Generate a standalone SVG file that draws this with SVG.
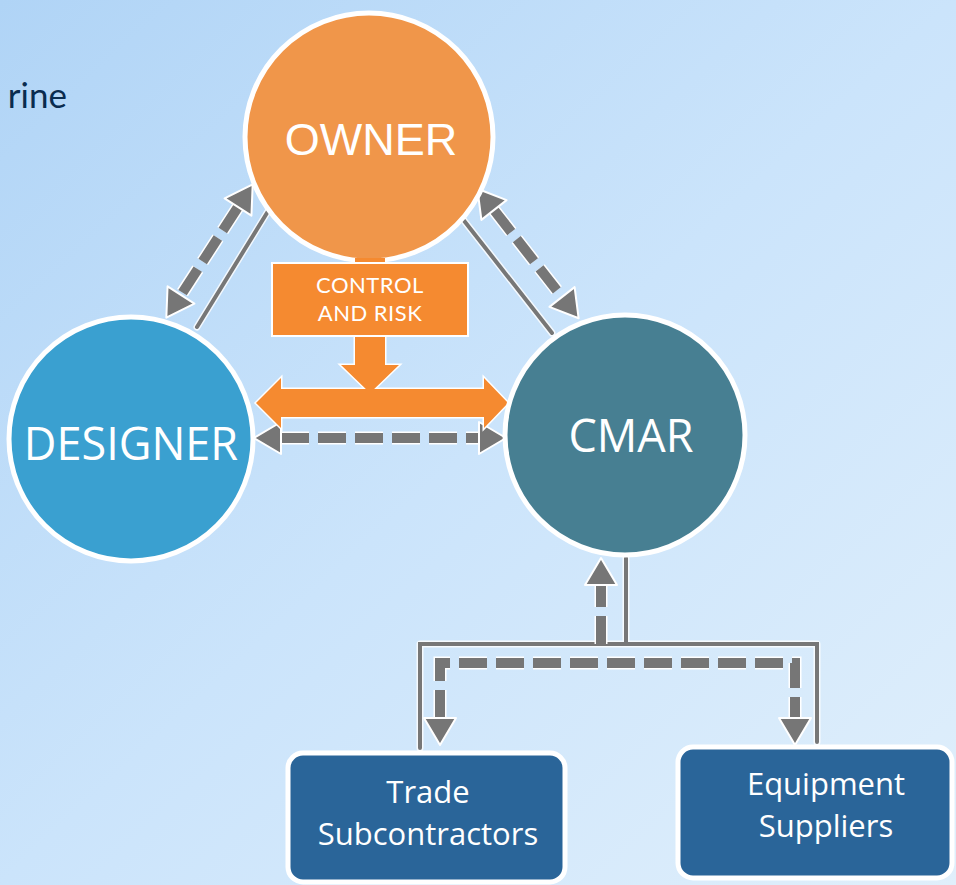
<svg xmlns="http://www.w3.org/2000/svg" width="956" height="885" viewBox="0 0 956 885">
  <defs>
    <linearGradient id="bg" x1="0" y1="0" x2="1" y2="1">
      <stop offset="0" stop-color="#b0d4f6"/>
      <stop offset="0.5" stop-color="#cbe4fb"/>
      <stop offset="1" stop-color="#e0effb"/>
    </linearGradient>
    <marker id="head" markerUnits="userSpaceOnUse" viewBox="-2 -2 31 36" refX="0" refY="16" markerWidth="31" markerHeight="36" orient="auto-start-reverse" overflow="visible">
      <path d="M0,0 L27,16 L0,32 Z" fill="#767676" stroke="#ffffff" stroke-width="2" stroke-linejoin="round"/>
    </marker>
    <style>
      .halo-dash { fill: none; stroke: #ffffff; stroke-width: 13; stroke-dasharray: 28 9; }
      .dash { fill: none; stroke: #767676; stroke-width: 10; stroke-dasharray: 28 9; }
      .halo-solid { fill: none; stroke: #ffffff; stroke-width: 7; stroke-linecap: round; stroke-linejoin: round; opacity: 0.8; }
      .solid { fill: none; stroke: #777777; stroke-width: 4; stroke-linecap: round; stroke-linejoin: miter; }
      .ring { stroke: #ffffff; stroke-width: 5; }
      .big { fill: #ffffff; font-size: 45px; text-anchor: middle; }
      .box { fill: #2a6599; stroke: #ffffff; stroke-width: 5; }
      .boxtext { fill: #ffffff; font-family: "Open Sans", "Noto Sans", sans-serif; font-size: 31px; text-anchor: middle; }
      .orange { fill: #f58a30; }
      .label { fill: #ffffff; font-family: Lato, "Open Sans", sans-serif; font-size: 22px; text-anchor: middle; letter-spacing: 0.5px; }
    </style>
  </defs>

  <rect width="956" height="885" fill="url(#bg)"/>

  <!-- heading fragment at the top left -->
  <text x="67" y="108" font-family="Lato, 'Open Sans', sans-serif" font-size="35" fill="#0a2c4f" text-anchor="end">rine</text>

  <!-- connectors -->
  <g id="connectors">
    <!-- solid contract lines -->
    <path class="halo-solid" d="M270,208 L197,327 M458,213 L552,333 M626,558 V644 M420,748 V644 H817 V742"/>
    <path class="solid" d="M270,208 L197,327 M458,213 L552,333 M626,558 V644 M420,748 V644 H817 V742"/>

    <!-- dashed communication lines -->
    <path class="halo-dash" d="M238,207 L181,295"/>
    <path class="dash" d="M238,207 L181,295" marker-start="url(#head)" marker-end="url(#head)"/>

    <path class="halo-dash" d="M494,210 L562,297"/>
    <path class="dash" d="M494,210 L562,297" marker-start="url(#head)" marker-end="url(#head)"/>

    <path class="halo-dash" d="M281,438 L479,438"/>
    <path class="dash" d="M281,438 L479,438" marker-start="url(#head)" marker-end="url(#head)"/>

    <path class="halo-dash" d="M601,644 V585"/>
    <path class="dash" d="M601,644 V585" marker-end="url(#head)"/>

    <path class="halo-dash" d="M440,718 V663 H795 V718"/>
    <path class="dash" d="M440,718 V663 H795 V718" marker-start="url(#head)" marker-end="url(#head)"/>

    <!-- control and risk arrows: outlines first, then fills so they merge -->
    <g fill="none" stroke="#ffffff" stroke-width="3" stroke-linejoin="miter">
      <polygon points="256,403 281,378 281,389 484,389 484,378 508,403 484,428 484,417 281,417 281,428"/>
      <polygon points="355,336 385,336 385,365 399,365 370,393 341,365 355,365"/>
    </g>
    <g class="orange">
      <polygon points="256,403 281,378 281,389 484,389 484,378 508,403 484,428 484,417 281,417 281,428"/>
      <polygon points="355,336 385,336 385,365 399,365 370,393 341,365 355,365"/>
    </g>
  </g>

  <g id="owner">
    <circle class="ring" cx="369" cy="137" r="124" fill="#f0964a"/>
    <rect x="355" y="258" width="30" height="8" class="orange"/>
    <text class="big" x="371" y="155" font-family="'Liberation Sans', Arial, sans-serif" font-size="46">OWNER</text>
  </g>

  <g id="control-risk">
    <rect x="272" y="263" width="196" height="73" class="orange" stroke="#ffffff" stroke-width="2"/>
    <text class="label" x="370" y="293">CONTROL</text>
    <text class="label" x="370" y="321">AND RISK</text>
  </g>

  <g id="designer">
    <circle class="ring" cx="131" cy="439" r="122" fill="#3aa0d0"/>
    <text class="big" x="131" y="460" font-family="'Open Sans', 'Noto Sans', sans-serif">DESIGNER</text>
  </g>

  <g id="cmar">
    <circle class="ring" cx="625" cy="435" r="120" fill="#477f92"/>
    <text class="big" x="631" y="452" font-family="'Open Sans', 'Noto Sans', sans-serif" font-size="46">CMAR</text>
  </g>

  <g id="trade-subcontractors">
    <rect class="box" x="288" y="753" width="277" height="129" rx="15"/>
    <text class="boxtext" x="428" y="803">Trade</text>
    <text class="boxtext" x="428" y="845">Subcontractors</text>
  </g>

  <g id="equipment-suppliers">
    <rect class="box" x="678" y="747" width="274" height="131" rx="15"/>
    <text class="boxtext" x="826" y="795">Equipment</text>
    <text class="boxtext" x="826" y="837">Suppliers</text>
  </g>
</svg>
